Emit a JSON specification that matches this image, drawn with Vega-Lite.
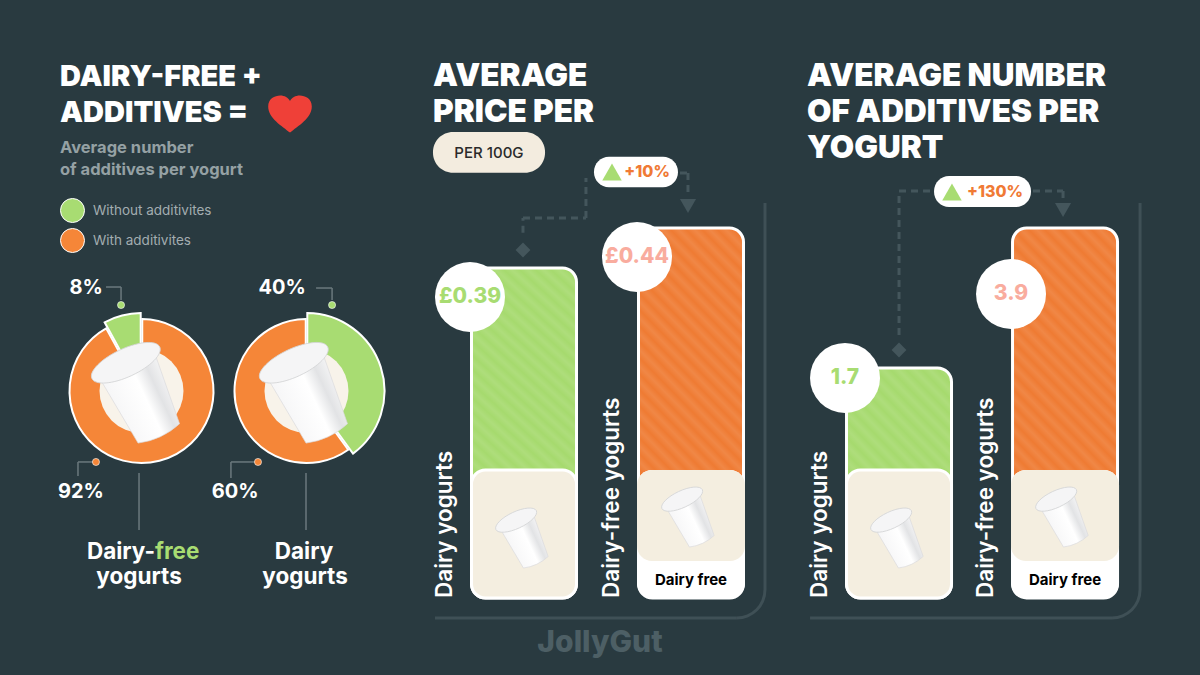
{
"$schema":"https://vega.github.io/schema/vega-lite/v6.json",
"background":"#293a40",
"padding":0,
"bounds":"flush",
"spacing":0,
"params":[
 {"name":"cupFill","value":{"gradient":"linear","x1":0,"y1":0,"x2":1,"y2":0,"stops":[{"offset":0,"color":"#f6f6f7"},{"offset":0.55,"color":"#ffffff"},{"offset":0.78,"color":"#e2e3e5"},{"offset":1,"color":"#f3f3f4"}]}},
 {"name":"stripesTall","value":{"gradient":"linear","x1":0,"y1":0.654,"x2":0.2484,"y2":-0.2215,"stops":[{"offset":0,"color":"#ffffff00"},{"offset":0.023,"color":"#ffffff18"},{"offset":0.046,"color":"#ffffff00"},{"offset":0.069,"color":"#ffffff18"},{"offset":0.091,"color":"#ffffff00"},{"offset":0.114,"color":"#ffffff18"},{"offset":0.137,"color":"#ffffff00"},{"offset":0.16,"color":"#ffffff18"},{"offset":0.183,"color":"#ffffff00"},{"offset":0.206,"color":"#ffffff18"},{"offset":0.229,"color":"#ffffff00"},{"offset":0.251,"color":"#ffffff18"},{"offset":0.274,"color":"#ffffff00"},{"offset":0.297,"color":"#ffffff18"},{"offset":0.32,"color":"#ffffff00"},{"offset":0.343,"color":"#ffffff18"},{"offset":0.366,"color":"#ffffff00"},{"offset":0.389,"color":"#ffffff18"},{"offset":0.411,"color":"#ffffff00"},{"offset":0.434,"color":"#ffffff18"},{"offset":0.457,"color":"#ffffff00"},{"offset":0.48,"color":"#ffffff18"},{"offset":0.503,"color":"#ffffff00"},{"offset":0.526,"color":"#ffffff18"},{"offset":0.549,"color":"#ffffff00"},{"offset":0.571,"color":"#ffffff18"},{"offset":0.594,"color":"#ffffff00"},{"offset":0.617,"color":"#ffffff18"},{"offset":0.64,"color":"#ffffff00"},{"offset":0.663,"color":"#ffffff18"},{"offset":0.686,"color":"#ffffff00"},{"offset":0.709,"color":"#ffffff18"},{"offset":0.731,"color":"#ffffff00"},{"offset":0.754,"color":"#ffffff18"},{"offset":0.777,"color":"#ffffff00"},{"offset":0.8,"color":"#ffffff18"},{"offset":0.823,"color":"#ffffff00"},{"offset":0.846,"color":"#ffffff18"},{"offset":0.869,"color":"#ffffff00"},{"offset":0.891,"color":"#ffffff18"},{"offset":0.914,"color":"#ffffff00"},{"offset":0.937,"color":"#ffffff18"},{"offset":0.96,"color":"#ffffff00"},{"offset":0.983,"color":"#ffffff18"},{"offset":1,"color":"#ffffff00"}]}},
 {"name":"stripesShort","value":{"gradient":"linear","x1":0,"y1":0.4435,"x2":0.3416,"y2":-0.3049,"stops":[{"offset":0,"color":"#ffffff00"},{"offset":0.038,"color":"#ffffff18"},{"offset":0.077,"color":"#ffffff00"},{"offset":0.115,"color":"#ffffff18"},{"offset":0.154,"color":"#ffffff00"},{"offset":0.192,"color":"#ffffff18"},{"offset":0.231,"color":"#ffffff00"},{"offset":0.269,"color":"#ffffff18"},{"offset":0.308,"color":"#ffffff00"},{"offset":0.346,"color":"#ffffff18"},{"offset":0.385,"color":"#ffffff00"},{"offset":0.423,"color":"#ffffff18"},{"offset":0.462,"color":"#ffffff00"},{"offset":0.5,"color":"#ffffff18"},{"offset":0.538,"color":"#ffffff00"},{"offset":0.577,"color":"#ffffff18"},{"offset":0.615,"color":"#ffffff00"},{"offset":0.654,"color":"#ffffff18"},{"offset":0.692,"color":"#ffffff00"},{"offset":0.731,"color":"#ffffff18"},{"offset":0.769,"color":"#ffffff00"},{"offset":0.808,"color":"#ffffff18"},{"offset":0.846,"color":"#ffffff00"},{"offset":0.885,"color":"#ffffff18"},{"offset":0.923,"color":"#ffffff00"},{"offset":0.962,"color":"#ffffff18"},{"offset":1,"color":"#ffffff00"}]}}
],
"config":{
 "view":{"stroke":null},
 "axis":{"disable":true},
 "title":{"font":"Inter","fontWeight":900,"fontSize":31.5,"lineHeight":36,"color":"#ffffff","anchor":"start","frame":"group","baseline":"top","subtitleFont":"Inter","subtitleFontWeight":700,"subtitleFontSize":16.5,"subtitleLineHeight":22,"subtitleColor":"#95a1a4","subtitlePadding":12},
 "text":{"font":"Inter","color":"#ffffff","fontWeight":700},
 "style":{
  "cupBody":{"shape":"M-0.58,-0.52 L0.58,-0.52 L0.44,0.9 Q0,1.04 -0.44,0.9 Z","stroke":"#d9dadc","strokeWidth":0.6},
  "cupLid":{"shape":"M-0.72,-0.6 A0.72,0.27 0 1 1 0.72,-0.6 A0.72,0.27 0 1 1 -0.72,-0.6 Z","stroke":"#d4d5d7","strokeWidth":0.8}
 }
},
"datasets":{
 "note":[{"note":"annotation"}],
 "donuts":[
  {"yogurt":"Dairy-free yogurts","slot":1,"kind":"With additivites","share":92,"order":1},
  {"yogurt":"Dairy-free yogurts","slot":1,"kind":"Without additivites","share":8,"order":2},
  {"yogurt":"Dairy yogurts","slot":2,"kind":"Without additivites","share":40,"order":1},
  {"yogurt":"Dairy yogurts","slot":2,"kind":"With additivites","share":60,"order":2}
 ],
 "price":[
  {"group":"Dairy yogurts","slot":1,"value":0.39,"label":"£0.39"},
  {"group":"Dairy-free yogurts","slot":2,"value":0.44,"label":"£0.44"}
 ],
 "additives":[
  {"group":"Dairy yogurts","slot":1,"value":1.7,"label":"1.7"},
  {"group":"Dairy-free yogurts","slot":2,"value":3.9,"label":"3.9"}
 ]
},
"hconcat":[
{
 "width":400,"height":675,
 "title":{"text":["DAIRY-FREE +","ADDITIVES ="],"subtitle":["Average number","of additives per yogurt"],"fontSize":29,"dx":60,"offset":-178},
 "data":{"name":"note"},
 "layer":[
  {"data":{"name":"donuts"},
   "transform":[{"stack":"share","groupby":["yogurt"],"sort":[{"field":"order","order":"ascending"}],"as":["start","end"]}],
   "layer":[
    {"transform":[{"filter":"datum.kind==='With additivites'"}],
     "mark":{"type":"arc","innerRadius":20,"outerRadius":72,"stroke":"#ffffff","strokeWidth":2,"padAngle":0.02,"opacity":1},
     "encoding":{
      "x":{"field":"slot","type":"quantitative","stack":null,"scale":{"domain":[0.1424,2.5667],"nice":false,"zero":false}},
      "y":{"datum":57.93,"scale":{"domain":[0,100],"reverse":true,"nice":false,"zero":false}},
      "theta":{"field":"start","type":"quantitative","stack":null,"scale":{"domain":[0,100]}},
      "theta2":{"field":"end"},
      "color":{"field":"kind","type":"nominal","scale":{"domain":["Without additivites","With additivites"],"range":["#a8dc72","#f58638"]},
       "legend":{"orient":"none","legendX":60,"legendY":198,"title":null,"symbolType":"circle","symbolSize":576,"symbolStrokeColor":"#ffffff","symbolStrokeWidth":1,"symbolOpacity":1,"labelFont":"Inter","labelFontWeight":400,"labelFontSize":13.5,"labelColor":"#a3adb0","labelOffset":8,"rowPadding":1,"labelLimit":200}}
     }},
    {"transform":[{"filter":"datum.kind==='Without additivites'"}],
     "mark":{"type":"arc","innerRadius":20,"outerRadius":78,"stroke":"#ffffff","strokeWidth":2,"padAngle":0.02,"opacity":1},
     "encoding":{
      "x":{"field":"slot","type":"quantitative","stack":null},
      "y":{"datum":57.93},
      "theta":{"field":"start","type":"quantitative","stack":null,"scale":{"domain":[0,100]}},
      "theta2":{"field":"end"},
      "color":{"field":"kind","type":"nominal"}
     }},
    {"transform":[{"filter":"datum.order===1"}],
     "mark":{"type":"point","shape":"circle","filled":true,"size":7056,"fill":"#f8f3ea","opacity":1},
     "encoding":{"x":{"field":"slot","type":"quantitative"},"y":{"datum":57.93}}}
   ]},
  {"mark":{"type":"point","style":"cupBody","filled":true,"fill":{"expr":"cupFill"},"size":10816,"angle":335,"opacity":1},"encoding":{"x":{"datum":0.985},"y":{"datum":57.93}}},
  {"mark":{"type":"point","style":"cupLid","filled":true,"fill":"#f5f5f6","size":10816,"angle":335,"opacity":1},"encoding":{"x":{"datum":0.985},"y":{"datum":57.93}}},
  {"mark":{"type":"point","style":"cupBody","filled":true,"fill":{"expr":"cupFill"},"size":10816,"angle":335,"opacity":1},"encoding":{"x":{"datum":2.003},"y":{"datum":57.93}}},
  {"mark":{"type":"point","style":"cupLid","filled":true,"fill":"#f5f5f6","size":10816,"angle":335,"opacity":1},"encoding":{"x":{"datum":2.003},"y":{"datum":57.93}}},
  {"mark":{"type":"point","shape":"M0,0.85 C-0.35,0.55 -1,0.2 -1,-0.35 C-1,-0.7 -0.7,-0.85 -0.45,-0.85 C-0.25,-0.85 -0.08,-0.75 0,-0.6 C0.08,-0.75 0.25,-0.85 0.45,-0.85 C0.7,-0.85 1,-0.7 1,-0.35 C1,0.2 0.35,0.55 0,0.85 Z","filled":true,"size":1900,"fill":"#ef4038","opacity":1},"encoding":{"x":{"datum":1.9},"y":{"datum":16.9}}},
  {"mark":{"type":"rule","stroke":"#6b797e","strokeWidth":1.5},"encoding":{"x":{"datum":0.785},"x2":{"datum":0.876},"y":{"datum":42.52}}},
  {"mark":{"type":"rule","stroke":"#6b797e","strokeWidth":1.5},"encoding":{"x":{"datum":0.876},"y":{"datum":42.52},"y2":{"datum":44.44}}},
  {"mark":{"type":"rule","stroke":"#6b797e","strokeWidth":1.5},"encoding":{"x":{"datum":2.058},"x2":{"datum":2.155},"y":{"datum":42.67}}},
  {"mark":{"type":"rule","stroke":"#6b797e","strokeWidth":1.5},"encoding":{"x":{"datum":2.155},"y":{"datum":42.67},"y2":{"datum":44.44}}},
  {"mark":{"type":"rule","stroke":"#6b797e","strokeWidth":1.5},"encoding":{"x":{"datum":0.615},"x2":{"datum":0.724},"y":{"datum":68.44}}},
  {"mark":{"type":"rule","stroke":"#6b797e","strokeWidth":1.5},"encoding":{"x":{"datum":0.615},"y":{"datum":68.44},"y2":{"datum":70.52}}},
  {"mark":{"type":"rule","stroke":"#6b797e","strokeWidth":1.5},"encoding":{"x":{"datum":1.542},"x2":{"datum":1.706},"y":{"datum":68.44}}},
  {"mark":{"type":"rule","stroke":"#6b797e","strokeWidth":1.5},"encoding":{"x":{"datum":1.542},"y":{"datum":68.44},"y2":{"datum":70.8}}},
  {"mark":{"type":"rule","stroke":"#6b797e","strokeWidth":1.5},"encoding":{"x":{"datum":0.985},"y":{"datum":70.07},"y2":{"datum":78.52}}},
  {"mark":{"type":"rule","stroke":"#6b797e","strokeWidth":1.5},"encoding":{"x":{"datum":1.997},"y":{"datum":70.07},"y2":{"datum":78.52}}},
  {"mark":{"type":"point","shape":"circle","filled":true,"size":50,"fill":"#a8dc72","stroke":"#ffffff","strokeWidth":0.6,"opacity":1},"encoding":{"x":{"datum":0.876},"y":{"datum":45.19}}},
  {"mark":{"type":"point","shape":"circle","filled":true,"size":50,"fill":"#a8dc72","stroke":"#ffffff","strokeWidth":0.6,"opacity":1},"encoding":{"x":{"datum":2.155},"y":{"datum":45.19}}},
  {"mark":{"type":"point","shape":"circle","filled":true,"size":50,"fill":"#f58638","stroke":"#ffffff","strokeWidth":0.6,"opacity":1},"encoding":{"x":{"datum":0.724},"y":{"datum":68.44}}},
  {"mark":{"type":"point","shape":"circle","filled":true,"size":50,"fill":"#f58638","stroke":"#ffffff","strokeWidth":0.6,"opacity":1},"encoding":{"x":{"datum":1.706},"y":{"datum":68.44}}},
  {"mark":{"type":"text","text":"8%","fontSize":20},"encoding":{"x":{"datum":0.664},"y":{"datum":42.67}}},
  {"mark":{"type":"text","text":"92%","fontSize":20},"encoding":{"x":{"datum":0.633},"y":{"datum":72.89}}},
  {"mark":{"type":"text","text":"40%","fontSize":20},"encoding":{"x":{"datum":1.852},"y":{"datum":42.67}}},
  {"mark":{"type":"text","text":"60%","fontSize":20},"encoding":{"x":{"datum":1.567},"y":{"datum":72.89}}},
  {"mark":{"type":"text","text":"Dairy-","fontSize":22.5,"align":"right"},"encoding":{"x":{"datum":1.082},"y":{"datum":81.78}}},
  {"mark":{"type":"text","text":"free","fontSize":22.5,"align":"left","color":"#a8dc72"},"encoding":{"x":{"datum":1.082},"y":{"datum":81.78}}},
  {"mark":{"type":"text","text":"yogurts","fontSize":22.5},"encoding":{"x":{"datum":0.985},"y":{"datum":85.48}}},
  {"mark":{"type":"text","text":"Dairy","fontSize":22.5},"encoding":{"x":{"datum":1.985},"y":{"datum":81.78}}},
  {"mark":{"type":"text","text":"yogurts","fontSize":22.5},"encoding":{"x":{"datum":1.991},"y":{"datum":85.48}}}
 ]
},
{
 "width":375,"height":675,
 "title":{"text":["AVERAGE","PRICE PER"],"dx":33,"offset":-128},
 "data":{"name":"note"},
 "layer":[
  {"mark":{"type":"rule","stroke":"#3f5056","strokeWidth":3},"encoding":{
    "x":{"datum":0.467,"scale":{"domain":[0.2575,2.503],"nice":false,"zero":false,"padding":0}},
    "x2":{"datum":2.275},
    "y":{"datum":-0.0475,"scale":{"domain":[-0.11875,0.725],"nice":false,"zero":false}}}},
  {"mark":{"type":"rule","stroke":"#3f5056","strokeWidth":3},"encoding":{"x":{"datum":2.443},"y":{"datum":0.47125},"y2":{"datum":-0.0125}}},
  {"mark":{"type":"arc","innerRadius":26.5,"outerRadius":29.5,"theta":1.5708,"theta2":3.1416,"fill":"#3f5056","opacity":1},"encoding":{"x":{"datum":2.275},"y":{"datum":-0.0125}}},
  {"mark":{"type":"rect","cornerRadius":20,"fill":"#f3ecdf","opacity":1},"encoding":{"x":{"datum":0.455},"x2":{"datum":1.126},"y":{"datum":0.56},"y2":{"datum":0.509}}},
  {"mark":{"type":"text","text":"PER 100G","fontSize":15,"fontWeight":500,"color":"#2a2a2a"},"encoding":{"x":{"datum":0.79},"y":{"datum":0.534}}},
  {"mark":{"type":"rule","stroke":"#44565c","strokeWidth":3,"strokeDash":[7,5]},"encoding":{"x":{"datum":0.994},"y":{"datum":0.434},"y2":{"datum":0.4525}}},
  {"mark":{"type":"rule","stroke":"#44565c","strokeWidth":3,"strokeDash":[7,5]},"encoding":{"x":{"datum":0.994},"x2":{"datum":1.371},"y":{"datum":0.4525}}},
  {"mark":{"type":"rule","stroke":"#44565c","strokeWidth":3,"strokeDash":[7,5]},"encoding":{"x":{"datum":1.371},"y":{"datum":0.4525},"y2":{"datum":0.5025}}},
  {"mark":{"type":"rule","stroke":"#44565c","strokeWidth":3,"strokeDash":[7,5]},"encoding":{"x":{"datum":1.934},"x2":{"datum":1.982},"y":{"datum":0.50875}}},
  {"mark":{"type":"rule","stroke":"#44565c","strokeWidth":3,"strokeDash":[7,5]},"encoding":{"x":{"datum":1.982},"y":{"datum":0.50875},"y2":{"datum":0.479}}},
  {"mark":{"type":"point","shape":"diamond","filled":true,"size":220,"fill":"#44565c","opacity":1},"encoding":{"x":{"datum":0.994},"y":{"datum":0.4125}}},
  {"mark":{"type":"point","shape":"triangle-down","filled":true,"size":260,"fill":"#44565c","opacity":1},"encoding":{"x":{"datum":1.982},"y":{"datum":0.4675}}},
  {"mark":{"type":"rect","cornerRadius":15,"fill":"#ffffff","opacity":1},"encoding":{"x":{"datum":1.419},"x2":{"datum":1.922},"y":{"datum":0.529},"y2":{"datum":0.491}}},
  {"mark":{"type":"point","shape":"triangle-up","filled":true,"size":380,"fill":"#a8dc72","opacity":1},"encoding":{"x":{"datum":1.527},"y":{"datum":0.51}}},
  {"mark":{"type":"text","text":"+10%","fontSize":16,"fontWeight":800,"color":"#f07a35"},"encoding":{"x":{"datum":1.737},"y":{"datum":0.51}}},
  {"mark":{"type":"text","text":"JollyGut","fontSize":30,"fontWeight":800,"color":"#4d5f65"},"encoding":{"x":{"datum":1.455},"y":{"datum":-0.079}}},
  {"data":{"name":"price"},
   "encoding":{"x":{"field":"slot","type":"quantitative"}},
   "layer":[
    {"mark":{"type":"bar","orient":"vertical","width":105,"cornerRadius":14,"stroke":"#ffffff","strokeWidth":3},
     "encoding":{"y":{"field":"value","type":"quantitative"},"y2":{"datum":-0.0225},
      "color":{"condition":{"test":"datum.slot===1","value":"#a6da6e"},"value":"#ef7b33"}}},
    {"mark":{"type":"bar","orient":"vertical","width":103,"cornerRadius":13,"fill":{"expr":"stripesTall"}},
     "encoding":{"y":{"field":"value","type":"quantitative"},"y2":{"datum":-0.0225}}},
    {"transform":[{"filter":"datum.slot===2"}],"mark":{"type":"bar","orient":"vertical","width":108,"cornerRadius":15,"fill":"#ffffff"},
     "encoding":{"y":{"datum":0.1375},"y2":{"datum":-0.0225}}},
    {"transform":[{"filter":"datum.slot===2"}],"mark":{"type":"bar","orient":"vertical","width":108,"cornerRadius":15,"fill":"#f4eee0"},
     "encoding":{"y":{"datum":0.1375},"y2":{"datum":0.02375}}},
    {"transform":[{"filter":"datum.slot===1"}],"mark":{"type":"bar","orient":"vertical","width":105,"cornerRadius":14,"fill":"#f4eee0","stroke":"#ffffff","strokeWidth":3},
     "encoding":{"y":{"datum":0.1375},"y2":{"datum":-0.0225}}},
    {"mark":{"type":"point","shape":"circle","filled":true,"size":4900,"fill":"#ffffff","opacity":1,"xOffset":-54,"yOffset":29},
     "encoding":{"y":{"field":"value","type":"quantitative"}}},
    {"mark":{"type":"text","fontSize":21,"fontWeight":800,"xOffset":-54,"yOffset":29},
     "encoding":{"y":{"field":"value","type":"quantitative"},"text":{"field":"label"},
      "color":{"condition":{"test":"datum.slot===1","value":"#a8dc72"},"value":"#f9ac9e"}}},
    {"mark":{"type":"text","fontSize":22.5,"fontWeight":600,"angle":270,"align":"left","baseline":"middle","xOffset":-79},
     "encoding":{"y":{"datum":-0.0225},"text":{"field":"group"}}},
    {"transform":[{"filter":"datum.slot===2"}],"mark":{"type":"text","text":"Dairy free","fontSize":15,"fontWeight":700,"color":"#000000"},
     "encoding":{"y":{"datum":0}}}
   ]},
  {"mark":{"type":"point","style":"cupBody","filled":true,"fill":{"expr":"cupFill"},"size":3844,"angle":335,"opacity":1},"encoding":{"x":{"datum":1},"y":{"datum":0.05375}}},
  {"mark":{"type":"point","style":"cupLid","filled":true,"fill":"#f5f5f6","size":3844,"angle":335,"opacity":1},"encoding":{"x":{"datum":1},"y":{"datum":0.05375}}},
  {"mark":{"type":"point","style":"cupBody","filled":true,"fill":{"expr":"cupFill"},"size":3844,"angle":335,"opacity":1},"encoding":{"x":{"datum":1.994},"y":{"datum":0.08}}},
  {"mark":{"type":"point","style":"cupLid","filled":true,"fill":"#f5f5f6","size":3844,"angle":335,"opacity":1},"encoding":{"x":{"datum":1.994},"y":{"datum":0.08}}}
 ]
},
{
 "width":425,"height":675,
 "title":{"text":["AVERAGE NUMBER","OF ADDITIVES PER","YOGURT"],"dx":32,"offset":-164},
 "data":{"name":"note"},
 "layer":[
  {"mark":{"type":"rule","stroke":"#3f5056","strokeWidth":3},"encoding":{
    "x":{"datum":0.464,"scale":{"domain":[0.253,2.813],"nice":false,"zero":false,"padding":0}},
    "x2":{"datum":2.283},
    "y":{"datum":-2.232,"scale":{"domain":[-3.1283,7.485],"nice":false,"zero":false}}}},
  {"mark":{"type":"rule","stroke":"#3f5056","strokeWidth":3},"encoding":{"x":{"datum":2.452},"y":{"datum":4.293},"y2":{"datum":-1.792}}},
  {"mark":{"type":"arc","innerRadius":26.5,"outerRadius":29.5,"theta":1.5708,"theta2":3.1416,"fill":"#3f5056","opacity":1},"encoding":{"x":{"datum":2.283},"y":{"datum":-1.792}}},
  {"mark":{"type":"rule","stroke":"#44565c","strokeWidth":3,"strokeDash":[7,5]},"encoding":{"x":{"datum":1},"y":{"datum":2.218},"y2":{"datum":4.482}}},
  {"mark":{"type":"rule","stroke":"#44565c","strokeWidth":3,"strokeDash":[7,5]},"encoding":{"x":{"datum":1},"x2":{"datum":1.205},"y":{"datum":4.482}}},
  {"mark":{"type":"rule","stroke":"#44565c","strokeWidth":3,"strokeDash":[7,5]},"encoding":{"x":{"datum":1.807},"x2":{"datum":1.988},"y":{"datum":4.482}}},
  {"mark":{"type":"rule","stroke":"#44565c","strokeWidth":3,"strokeDash":[7,5]},"encoding":{"x":{"datum":1.988},"y":{"datum":4.482},"y2":{"datum":4.309}}},
  {"mark":{"type":"point","shape":"diamond","filled":true,"size":220,"fill":"#44565c","opacity":1},"encoding":{"x":{"datum":1},"y":{"datum":1.982}}},
  {"mark":{"type":"point","shape":"triangle-down","filled":true,"size":260,"fill":"#44565c","opacity":1},"encoding":{"x":{"datum":1.988},"y":{"datum":4.183}}},
  {"mark":{"type":"rect","cornerRadius":15,"fill":"#ffffff","opacity":1},"encoding":{"x":{"datum":1.211},"x2":{"datum":1.795},"y":{"datum":4.718},"y2":{"datum":4.23}}},
  {"mark":{"type":"point","shape":"triangle-up","filled":true,"size":380,"fill":"#a8dc72","opacity":1},"encoding":{"x":{"datum":1.319},"y":{"datum":4.466}}},
  {"mark":{"type":"text","text":"+130%","fontSize":16,"fontWeight":800,"color":"#f07a35"},"encoding":{"x":{"datum":1.578},"y":{"datum":4.466}}},
  {"data":{"name":"additives"},
   "encoding":{"x":{"field":"slot","type":"quantitative"}},
   "layer":[
    {"mark":{"type":"bar","orient":"vertical","width":105,"cornerRadius":14,"stroke":"#ffffff","strokeWidth":3},
     "encoding":{"y":{"field":"value","type":"quantitative"},"y2":{"datum":-1.9176},
      "color":{"condition":{"test":"datum.slot===1","value":"#a6da6e"},"value":"#ef7b33"}}},
    {"transform":[{"filter":"datum.slot===1"}],"mark":{"type":"bar","orient":"vertical","width":103,"cornerRadius":13,"fill":{"expr":"stripesShort"}},
     "encoding":{"y":{"field":"value","type":"quantitative"},"y2":{"datum":-1.9176}}},
    {"transform":[{"filter":"datum.slot===2"}],"mark":{"type":"bar","orient":"vertical","width":103,"cornerRadius":13,"fill":{"expr":"stripesTall"}},
     "encoding":{"y":{"field":"value","type":"quantitative"},"y2":{"datum":-1.9176}}},
    {"transform":[{"filter":"datum.slot===2"}],"mark":{"type":"bar","orient":"vertical","width":108,"cornerRadius":15,"fill":"#ffffff"},
     "encoding":{"y":{"datum":0.095},"y2":{"datum":-1.9176}}},
    {"transform":[{"filter":"datum.slot===2"}],"mark":{"type":"bar","orient":"vertical","width":108,"cornerRadius":15,"fill":"#f4eee0"},
     "encoding":{"y":{"datum":0.095},"y2":{"datum":-1.336}}},
    {"transform":[{"filter":"datum.slot===1"}],"mark":{"type":"bar","orient":"vertical","width":105,"cornerRadius":14,"fill":"#f4eee0","stroke":"#ffffff","strokeWidth":3},
     "encoding":{"y":{"datum":0.095},"y2":{"datum":-1.9176}}},
    {"transform":[{"filter":"datum.slot===1"}],"mark":{"type":"point","shape":"circle","filled":true,"size":4900,"fill":"#ffffff","opacity":1,"xOffset":-54,"yOffset":10},
     "encoding":{"y":{"field":"value","type":"quantitative"}}},
    {"transform":[{"filter":"datum.slot===2"}],"mark":{"type":"point","shape":"circle","filled":true,"size":4900,"fill":"#ffffff","opacity":1,"xOffset":-54,"yOffset":66},
     "encoding":{"y":{"field":"value","type":"quantitative"}}},
    {"transform":[{"filter":"datum.slot===1"}],"mark":{"type":"text","fontSize":21,"fontWeight":800,"xOffset":-54,"yOffset":10,"color":"#a8dc72"},
     "encoding":{"y":{"field":"value","type":"quantitative"},"text":{"field":"label"}}},
    {"transform":[{"filter":"datum.slot===2"}],"mark":{"type":"text","fontSize":21,"fontWeight":800,"xOffset":-54,"yOffset":66,"color":"#f9ac9e"},
     "encoding":{"y":{"field":"value","type":"quantitative"},"text":{"field":"label"}}},
    {"mark":{"type":"text","fontSize":22.5,"fontWeight":600,"angle":270,"align":"left","baseline":"middle","xOffset":-79},
     "encoding":{"y":{"datum":-1.9176},"text":{"field":"group"}}},
    {"transform":[{"filter":"datum.slot===2"}],"mark":{"type":"text","text":"Dairy free","fontSize":15,"fontWeight":700,"color":"#000000"},
     "encoding":{"y":{"datum":-1.635}}}
   ]},
  {"mark":{"type":"point","style":"cupBody","filled":true,"fill":{"expr":"cupFill"},"size":3844,"angle":335,"opacity":1},"encoding":{"x":{"datum":1},"y":{"datum":-0.958}}},
  {"mark":{"type":"point","style":"cupLid","filled":true,"fill":"#f5f5f6","size":3844,"angle":335,"opacity":1},"encoding":{"x":{"datum":1},"y":{"datum":-0.958}}},
  {"mark":{"type":"point","style":"cupBody","filled":true,"fill":{"expr":"cupFill"},"size":3844,"angle":335,"opacity":1},"encoding":{"x":{"datum":1.994},"y":{"datum":-0.628}}},
  {"mark":{"type":"point","style":"cupLid","filled":true,"fill":"#f5f5f6","size":3844,"angle":335,"opacity":1},"encoding":{"x":{"datum":1.994},"y":{"datum":-0.628}}}
 ]
}
]
}
